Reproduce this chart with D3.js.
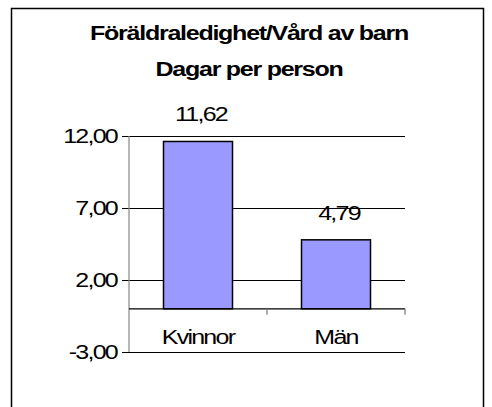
<!DOCTYPE html>
<html>
<head>
<meta charset="utf-8">
<script src="https://cdn.jsdelivr.net/npm/d3@7"></script>
<style>
    body { margin: 0; background: #fff; }
    svg text { font-family: "Liberation Sans", Arial, sans-serif; fill: #000; }
</style>
</head>
<body>
<div id="chart"></div>
<script>
// data
var categories = ["Kvinnor", "Män"];
var values = [11.62, 4.79];
var yTicks = [-3, 2, 7, 12];
var titleLines = ["Föräldraledighet/Vård av barn", "Dagar per person"];

var W = 492, H = 407;
var plot = { left: 129, right: 405, top: 136, bottom: 352 };

// swedish number format: 11,62 and a plain hyphen for minus
var sv = d3.formatLocale({ decimal: ",", thousands: " ", grouping: [3], currency: ["", " kr"], minus: "-" });
var fmt = sv.format(".2f");

var svg = d3.select("#chart").append("svg")
    .attr("width", W)
    .attr("height", H);

// outer frame of the chart area
svg.append("rect")
    .attr("x", 11.5).attr("y", 8.5)
    .attr("width", 472).attr("height", 420)
    .attr("fill", "#fff")
    .attr("stroke", "#000")
    .attr("stroke-width", 1.5);

// title (the original text is wide and tight)
svg.selectAll(".title")
    .data(titleLines)
    .enter().append("text")
    .attr("class", "title")
    .attr("transform", function (d, i) { return "translate(249," + (40 + i * 36) + ") scale(1.25,1)"; })
    .attr("text-anchor", "middle")
    .style("font-size", "20px")
    .style("font-weight", "bold")
    .style("letter-spacing", "-1px")
    .text(function (d) { return d; });

// scales
var x = d3.scaleBand()
    .domain(categories)
    .range([plot.left, plot.right])
    .paddingInner(0.5)
    .paddingOuter(0.25);

var y = d3.scaleLinear()
    .domain([-3, 12])
    .range([plot.bottom, plot.top]);

// y axis with gridlines
var yAxis = svg.append("g")
    .attr("transform", "translate(" + plot.left + ",0)")
    .call(d3.axisLeft(y)
        .tickValues(yTicks)
        .tickSize(-(plot.right - plot.left))
        .tickSizeOuter(0)
        .tickFormat(fmt));

yAxis.select(".domain").remove();
yAxis.selectAll(".tick line")
    .attr("x1", -7)
    .attr("stroke", "#000")
    .attr("stroke-width", 1.2);
yAxis.selectAll(".tick text")
    .attr("x", 0)
    .attr("dy", "0.3em")
    .attr("transform", "translate(-12,0) scale(1.25,1)")
    .style("font-size", "20px")
    .style("letter-spacing", "-1.4px");

// vertical axis line
svg.append("line")
    .attr("x1", plot.left).attr("x2", plot.left)
    .attr("y1", y(12)).attr("y2", y(-3))
    .attr("stroke", "#888")
    .attr("stroke-width", 1.2);

// bars
svg.selectAll(".bar")
    .data(values)
    .enter().append("rect")
    .attr("class", "bar")
    .attr("x", function (d, i) { return x(categories[i]); })
    .attr("width", x.bandwidth())
    .attr("y", function (d) { return y(d); })
    .attr("height", function (d) { return y(0) - y(d); })
    .attr("fill", "#9999FF")
    .attr("stroke", "#000")
    .attr("stroke-width", 1.5);

// category axis at zero
svg.append("line")
    .attr("x1", plot.left).attr("x2", plot.right)
    .attr("y1", y(0)).attr("y2", y(0))
    .attr("stroke", "#000")
    .attr("stroke-width", 1.2);

// ticks between categories
var bounds = categories.map(function (c) { return x(c) + x.bandwidth() + x.step() * x.paddingInner() / 2; });
svg.selectAll(".ctick")
    .data(bounds)
    .enter().append("line")
    .attr("x1", function (d) { return d; })
    .attr("x2", function (d) { return d; })
    .attr("y1", y(0))
    .attr("y2", y(0) + 6)
    .attr("stroke", "#777")
    .attr("stroke-width", 1.2);

// category labels
svg.selectAll(".clabel")
    .data(categories)
    .enter().append("text")
    .attr("class", "clabel")
    .attr("transform", function (d) { return "translate(" + (x(d) + x.bandwidth() / 2) + ",344) scale(1.25,1)"; })
    .attr("text-anchor", "middle")
    .style("font-size", "20px")
    .style("letter-spacing", "-1.4px")
    .text(function (d) { return d; });

// value labels above bars
svg.selectAll(".vlabel")
    .data(values)
    .enter().append("text")
    .attr("class", "vlabel")
    .attr("transform", function (d, i) { return "translate(" + (x(categories[i]) + x.bandwidth() / 2 + 3) + "," + (y(d) - 20) + ") scale(1.25,1)"; })
    .attr("text-anchor", "middle")
    .style("font-size", "20px")
    .style("letter-spacing", "-1.4px")
    .text(function (d) { return fmt(d); });
</script>
</body>
</html>
